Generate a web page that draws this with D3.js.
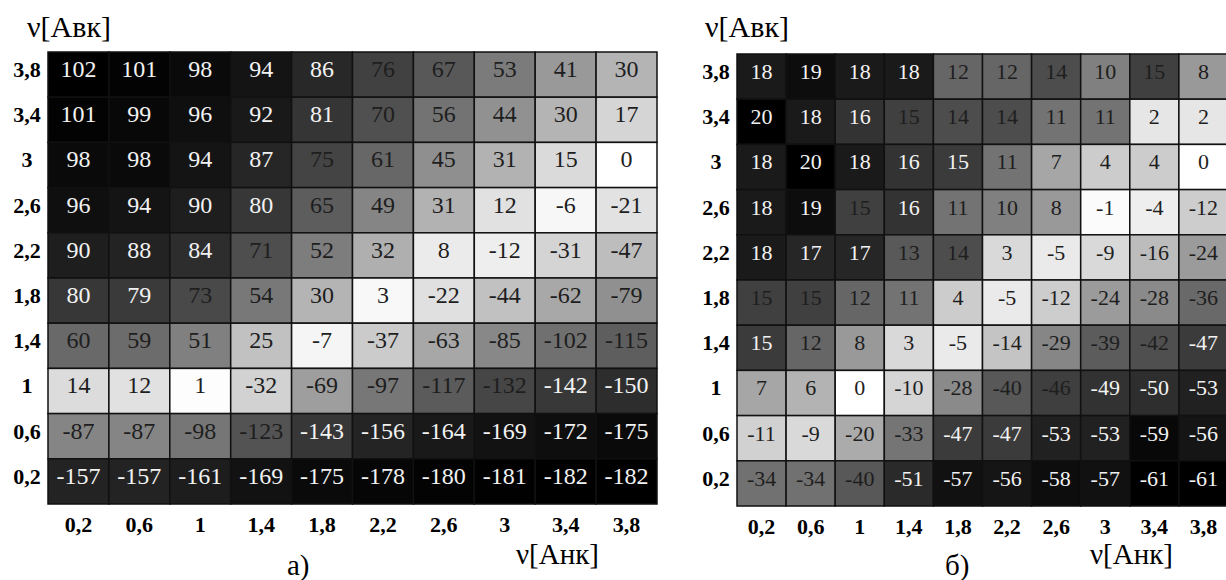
<!DOCTYPE html>
<html>
<head>
<meta charset="utf-8">
<script src="https://cdn.jsdelivr.net/npm/d3@7"></script>
<style>
  body { margin: 0; background: #fff; }
</style>
</head>
<body>
<script>
// values, rows from top (3,8) down to (0,2); columns 0,2 .. 3,8
var rowLabels = ['3,8', '3,4', '3', '2,6', '2,2', '1,8', '1,4', '1', '0,6', '0,2'];
var colLabels = ['0,2', '0,6', '1', '1,4', '1,8', '2,2', '2,6', '3', '3,4', '3,8'];

var valuesA = [
  [102, 101, 98, 94, 86, 76, 67, 53, 41, 30],
  [101, 99, 96, 92, 81, 70, 56, 44, 30, 17],
  [98, 98, 94, 87, 75, 61, 45, 31, 15, 0],
  [96, 94, 90, 80, 65, 49, 31, 12, -6, -21],
  [90, 88, 84, 71, 52, 32, 8, -12, -31, -47],
  [80, 79, 73, 54, 30, 3, -22, -44, -62, -79],
  [60, 59, 51, 25, -7, -37, -63, -85, -102, -115],
  [14, 12, 1, -32, -69, -97, -117, -132, -142, -150],
  [-87, -87, -98, -123, -143, -156, -164, -169, -172, -175],
  [-157, -157, -161, -169, -175, -178, -180, -181, -182, -182]
];

var valuesB = [
  [18, 19, 18, 18, 12, 12, 14, 10, 15, 8],
  [20, 18, 16, 15, 14, 14, 11, 11, 2, 2],
  [18, 20, 18, 16, 15.4, 11, 7, 4, 4, 0],
  [18, 19, 15, 16, 11, 10, 8, -1, -4, -12],
  [18, 17, 17, 13, 14, 3, -5, -9, -16, -24],
  [15, 15, 12, 11, 4, -5, -12, -24, -28, -36],
  [15.4, 12, 8, 3, -5, -14, -29, -39, -42, -47],
  [7, 6, 0, -10, -28, -40, -46, -49, -50, -53],
  [-11, -9, -20, -33, -47, -47, -53, -53, -59, -56],
  [-34, -34, -40, -51, -57, -56, -58, -57, -61, -61]
];

var W = 1226, H = 580;
var serif = '"Liberation Serif", "DejaVu Serif", serif';

var svg = d3.select('body')
  .append('svg')
  .attr('width', W)
  .attr('height', H)
  .attr('font-family', serif);

function panel(values, o) {
  var x = d3.scaleBand().domain(colLabels).range([o.x0, o.x1]);
  var y = d3.scaleBand().domain(rowLabels).range([o.y0, o.y1]);
  var all = d3.merge(values);
  var lo = d3.min(all), hi = d3.max(all);
  var color = d3.scaleLinear()
    .domain([lo, 0, hi])
    .range(['#000', '#fff', '#000']);
  // how dark a cell is, 0..1
  var depth = (v) => v >= 0 ? v / hi : v / lo;

  var cells = [];
  values.forEach((row, i) => row.forEach((v, j) => cells.push({ r: rowLabels[i], c: colLabels[j], v: v })));

  var g = svg.append('g');

  g.selectAll('rect')
    .data(cells)
    .enter()
    .append('rect')
    .attr('x', (d) => x(d.c))
    .attr('y', (d) => y(d.r))
    .attr('width', x.bandwidth())
    .attr('height', y.bandwidth())
    .attr('fill', (d) => color(d.v))
    .attr('stroke', '#111')
    .attr('stroke-width', 1.5);

  g.selectAll('text.val')
    .data(cells)
    .enter()
    .append('text')
    .attr('class', 'val')
    .attr('x', (d) => x(d.c) + x.bandwidth() / 2)
    .attr('y', (d) => y(d.r) + 25)
    .attr('text-anchor', 'middle')
    .attr('font-family', serif)
    .style('font-size', o.fs + 'px')
    .attr('fill', (d) => depth(d.v) > 0.76 ? '#f2f2f2' : '#1e1e1e')
    .text((d) => String(Math.round(d.v)));

  g.selectAll('text.rl')
    .data(rowLabels)
    .enter()
    .append('text')
    .attr('class', 'rl')
    .attr('x', o.rowX)
    .attr('y', (d) => y(d) + 25)
    .attr('text-anchor', 'middle')
    .attr('font-family', serif)
    .style('font-size', '22px')
    .style('font-weight', 'bold')
    .text((d) => d);

  g.selectAll('text.cl')
    .data(colLabels)
    .enter()
    .append('text')
    .attr('class', 'cl')
    .attr('x', (d) => x(d) + x.bandwidth() / 2)
    .attr('y', o.y1 + 28)
    .attr('text-anchor', 'middle')
    .attr('font-family', serif)
    .style('font-size', '22px')
    .style('font-weight', 'bold')
    .text((d) => d);

  g.append('text')
    .attr('x', o.titleX)
    .attr('y', 37)
    .attr('font-family', serif)
    .style('font-size', '30px')
    .text('ν[Авк]');

  g.append('text')
    .attr('x', o.xTitleX)
    .attr('y', 564)
    .attr('font-family', serif)
    .style('font-size', '29px')
    .text('ν[Анк]');

  g.append('text')
    .attr('x', o.tagX)
    .attr('y', 575)
    .attr('font-family', serif)
    .style('font-size', '29px')
    .text(o.tag);
}

panel(valuesA, { x0: 48, x1: 657, y0: 52, y1: 504, fs: 24, rowX: 27, titleX: 27, xTitleX: 516, tagX: 287, tag: 'а)' });
panel(valuesB, { x0: 737, x1: 1228, y0: 54, y1: 506, fs: 22, rowX: 716, titleX: 705, xTitleX: 1090, tagX: 945, tag: 'б)' });
</script>
</body>
</html>
